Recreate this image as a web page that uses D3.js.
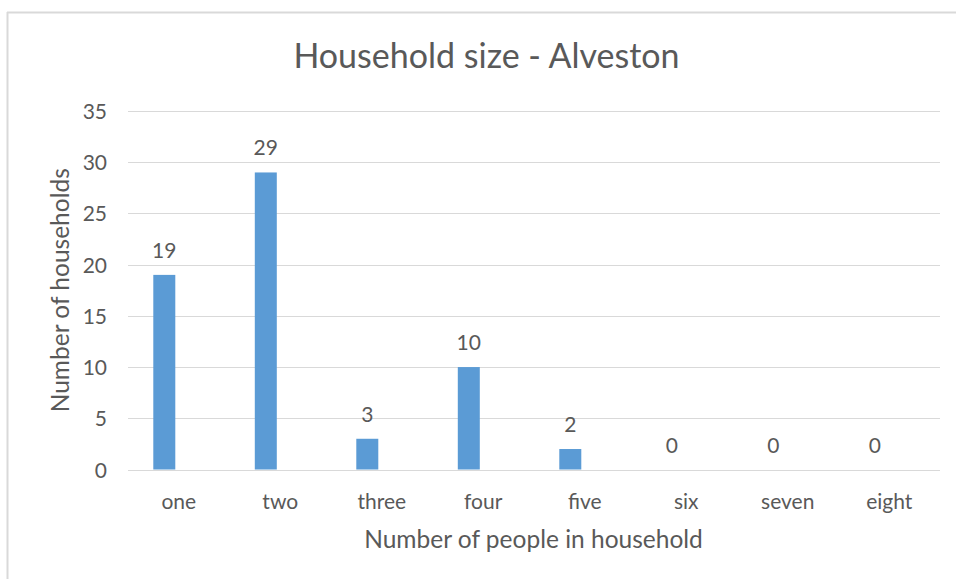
<!DOCTYPE html>
<html>
<head>
<meta charset="utf-8">
<script src="https://cdn.jsdelivr.net/npm/d3@7"></script>
<style>
  html, body { margin: 0; padding: 0; background: #fff; }
  svg { display: block; }
  text { font-family: Lato, "Open Sans", sans-serif; fill: #595959; }
</style>
</head>
<body>
<svg id="chart" width="956" height="579"></svg>
<script>
const categories = ["one", "two", "three", "four", "five", "six", "seven", "eight"];
const households = [19, 29, 3, 10, 2, 0, 0, 0];
const yTicks = [0, 5, 10, 15, 20, 25, 30, 35];
const seriesSlots = ["households", "blank"];
const chartTitle = "Household size - Alveston";
const xTitle = "Number of people in household";
const yTitle = "Number of households";

const svg = d3.select("#chart");
const W = 956, H = 579;
const plot = { left: 128, right: 940, top: 111, bottom: 469.5 };

// chart area border (top and left visible)
svg.append("line").attr("x1", 7).attr("x2", W).attr("y1", 12.5).attr("y2", 12.5)
  .attr("stroke", "#d9d9d9").attr("stroke-width", 2);
svg.append("line").attr("x1", 7.5).attr("x2", 7.5).attr("y1", 12).attr("y2", H)
  .attr("stroke", "#d9d9d9").attr("stroke-width", 2);

const x = d3.scaleBand().domain(categories).range([plot.left, plot.right]).padding(0);
const sub = d3.scaleBand().domain(seriesSlots).range([0, x.bandwidth()])
  .paddingInner(0.239).paddingOuter(0.875);
const y = d3.scaleLinear().domain([0, 35]).range([plot.bottom, plot.top]);

// gridlines
svg.append("g").selectAll("line").data(yTicks).join("line")
  .attr("x1", plot.left).attr("x2", plot.right)
  .attr("y1", d => Math.round(y(d)) + 0.5).attr("y2", d => Math.round(y(d)) + 0.5)
  .attr("stroke", "#d9d9d9").attr("stroke-width", 1);

// y axis labels
const yAxis = d3.axisLeft(y).tickValues(yTicks).tickSize(0).tickPadding(0);
const yg = svg.append("g").attr("transform", `translate(${plot.left - 21},0)`).call(yAxis);
yg.select(".domain").remove();
yg.selectAll("text").attr("font-size", 21).attr("fill", "#595959")
  .style("font-family", "Lato, sans-serif").attr("dy", "0.36em");

// x axis labels
const xAxis = d3.axisBottom(x).tickSize(0).tickPadding(0);
const xg = svg.append("g").attr("transform", `translate(0,${plot.bottom + 39})`).call(xAxis);
xg.select(".domain").remove();
xg.selectAll("text").attr("font-size", 21).attr("fill", "#595959")
  .style("font-family", "Lato, sans-serif").attr("dy", "0");

// bars
const data = categories.map((c, i) => ({ c, v: households[i] }));
svg.append("g").selectAll("rect").data(data).join("rect")
  .attr("x", d => x(d.c) + sub("households"))
  .attr("width", sub.bandwidth())
  .attr("y", d => y(d.v))
  .attr("height", d => y(0) - y(d.v))
  .attr("fill", "#5b9bd5");

// value labels
svg.append("g").selectAll("text").data(data).join("text")
  .attr("x", d => x(d.c) + sub("households") + sub.bandwidth() / 2)
  .attr("y", d => y(d.v) - 17)
  .attr("text-anchor", "middle")
  .attr("font-size", 21)
  .text(d => d.v);

// title
svg.append("text").attr("x", (plot.left + plot.right) / 2 - 47.5).attr("y", 68)
  .attr("text-anchor", "middle").attr("font-size", 34).text(chartTitle);

// x title
svg.append("text").attr("x", (plot.left + plot.right) / 2 - 0.5).attr("y", 548)
  .attr("text-anchor", "middle").attr("font-size", 24.5).text(xTitle);

// y title
svg.append("text")
  .attr("transform", `translate(69,${(plot.top + plot.bottom) / 2}) rotate(-90)`)
  .attr("text-anchor", "middle").attr("font-size", 24.5).text(yTitle);
</script>
</body>
</html>
